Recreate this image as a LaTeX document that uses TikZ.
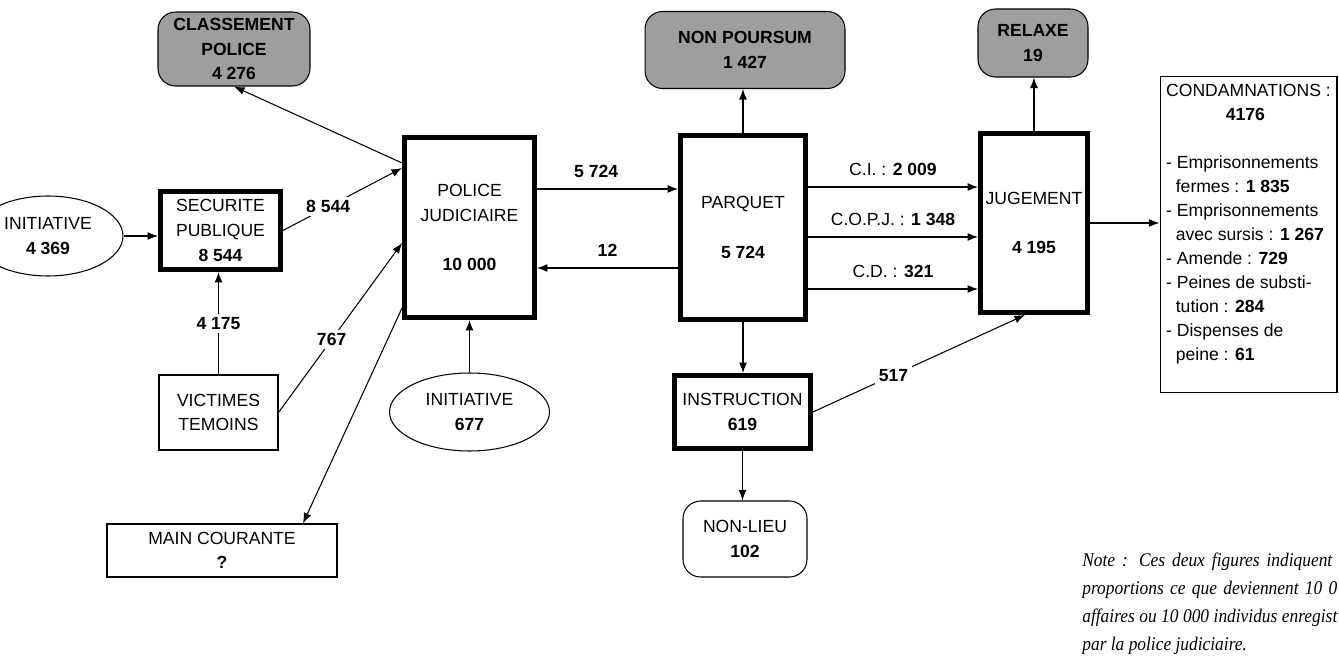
\documentclass[tikz,border=0pt]{standalone}
\usepackage{fontspec}
\setmainfont{Liberation Sans}
\newfontfamily\notefont[FakeStretch=0.9]{Liberation Serif}
\usepackage{tikz}
\usetikzlibrary{shapes.geometric,arrows.meta}
\tikzset{>={Latex[length=6pt,width=4.5pt]}}
\tikzset{
  box/.style={draw, line width=0.6pt, align=center, inner sep=1pt,
    font=\fontsize{10}{14}\selectfont},
  heavy/.style={box, line width=2.8pt},
  grey/.style={box, fill=black!38, rounded corners=10pt,
    font=\fontsize{10}{14}\selectfont\bfseries},
  oval/.style={box, ellipse},
  num/.style={fill=white, inner sep=2pt, font=\fontsize{10}{12}\selectfont\bfseries},
  lab/.style={font=\fontsize{10}{12}\selectfont},
  note/.style={anchor=base west, inner sep=0, font=\notefont\itshape\fontsize{11}{13}\selectfont},
  flow/.style={->, line width=0.6pt},
}
\newcommand{\cont}{\hspace*{5.5pt}}

\begin{document}
\begin{tikzpicture}[x=0.02cm,y=-0.02cm]
  \useasboundingbox (0,0) rectangle (1339,658);
  \clip (0,0) rectangle (1339,658);

  % Nodes
  \node[grey, minimum width=3.04cm, minimum height=1.48cm] (classement) at (234,49) {CLASSEMENT\\POLICE\\4 276};
  \node[oval, minimum width=3.0cm, minimum height=1.6cm] (initA) at (48,236) {INITIATIVE\\\textbf{4 369}};
  \node[heavy, minimum width=2.4cm, minimum height=1.56cm] (securite) at (220.5,230.5) {SECURITE\\PUBLIQUE\\\textbf{8 544}};
  \node[box, minimum width=2.38cm, minimum height=1.5cm] (victimes) at (218.5,412.5) {VICTIMES\\TEMOINS};
  \node[box, minimum width=4.6cm, minimum height=1.06cm] (maincour) at (222,550.5) {MAIN COURANTE\\\textbf{?}};
  \node[heavy, minimum width=2.6cm, minimum height=3.6cm] (police) at (469.5,227.5) {POLICE\\JUDICIAIRE\\[14pt]\textbf{10 000}};
  \node[oval, minimum width=3.2cm, minimum height=1.56cm] (initB) at (469.5,412) {INITIATIVE\\\textbf{677}};
  \node[heavy, minimum width=2.5cm, minimum height=3.68cm] (parquet) at (743,227.5) {PARQUET\\[14pt]\textbf{5 724}};
  \node[grey, minimum width=4cm, minimum height=1.54cm] (nonpours) at (745,50) {NON POURSUM\\1 427};
  \node[heavy, minimum width=2.72cm, minimum height=1.46cm] (instr) at (742.5,412) {INSTRUCTION\\\textbf{619}};
  \node[box, rounded corners=10pt, minimum width=2.48cm, minimum height=1.52cm] (nonlieu) at (745,539) {NON-LIEU\\\textbf{102}};
  \node[heavy, minimum width=2.14cm, minimum height=3.58cm] (jugement) at (1034,223) {JUGEMENT\\[14pt]\textbf{4 195}};
  \node[grey, minimum width=2.2cm, minimum height=1.36cm] (relaxe) at (1033,43) {RELAXE\\19};
  \node[box, align=left, minimum width=3.54cm, minimum height=6.34cm,
    font=\fontsize{10}{13.7}\selectfont] (condamn) at (1248.5,234.5) {%
    CONDAMNATIONS :\\
    \hspace*{34pt}\textbf{4176}\\
    ~\\
    - Emprisonnements\\
    \cont fermes : \textbf{1 835}\\
    - Emprisonnements\\
    \cont avec sursis : \textbf{1 267}\\
    - Amende : \textbf{729}\\
    - Peines de substi-\\
    \cont tution : \textbf{284}\\
    - Dispenses de\\
    \cont peine : \textbf{61}\\
    ~};

  % Note
  \node[note] (note1) at (1082,566) {\makebox[5cm][s]{Note : Ces deux figures indiquent}};
  \node[note] (note2) at (1082,594) {\makebox[5.1cm][s]{proportions ce que deviennent 10 0}};
  \node[note] (note3) at (1082,622) {\makebox[5.1cm][s]{affaires ou 10 000 individus enregist}};
  \node[note] (note4) at (1082,650) {par la police judiciaire.};

  % Edges
  \draw[flow] (initA.east) -- (initA.east -| securite.west);
  \draw[flow] (victimes.north) -- node[num]{4 175} (victimes.north |- securite.south);
  \draw[flow] (securite.east) -- node[num, pos=0.38]{8 544} ([yshift=1.19cm]police.west);
  \draw[flow] ([yshift=1.29cm]police.west) -- (classement.south);
  \draw[flow] (victimes.east) -- node[num, pos=0.43]{767} ([yshift=-0.31cm]police.west);
  \draw[flow] ([yshift=-1.61cm]police.west) -- ([xshift=1.62cm]maincour.north);
  \draw[flow] (initB.north) -- (initB.north |- police.south);
  \draw[flow] ([yshift=0.77cm]police.east) -- node[num, above=4pt, pos=0.42]{5 724} ([yshift=0.77cm]police.east -| parquet.west);
  \draw[flow] ([yshift=-0.81cm]parquet.west) -- node[num, above=4pt]{12} ([yshift=-0.81cm]parquet.west -| police.east);
  \draw[flow] (parquet.north) -- (parquet.north |- nonpours.south);
  \draw[flow] ([yshift=0.81cm]parquet.east) -- node[lab, above=3pt]{C.I. : \textbf{2 009}} ([yshift=0.81cm]parquet.east -| jugement.west);
  \draw[flow] ([yshift=-0.19cm]parquet.east) -- node[lab, above=3pt]{C.O.P.J. : \textbf{1 348}} ([yshift=-0.19cm]parquet.east -| jugement.west);
  \draw[flow] ([yshift=-1.23cm]parquet.east) -- node[lab, above=3pt]{C.D. : \textbf{321}} ([yshift=-1.23cm]parquet.east -| jugement.west);
  \draw[flow] (parquet.south) -- (parquet.south |- instr.north);
  \draw[flow] (instr.south) -- (instr.south |- nonlieu.north);
  \draw[flow] (instr.east) -- node[num, pos=0.38]{517} ([xshift=-0.18cm]jugement.south);
  \draw[flow] (jugement.east) -- (jugement.east -| condamn.west);
  \draw[flow] (jugement.north) -- (jugement.north |- relaxe.south);

\end{tikzpicture}
\end{document}
